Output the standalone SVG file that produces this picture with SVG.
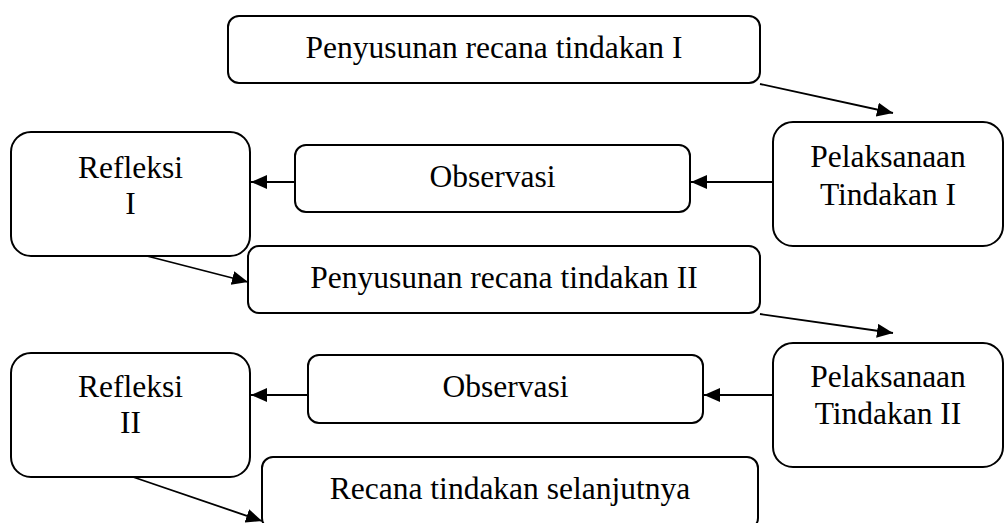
<svg xmlns="http://www.w3.org/2000/svg" width="1004" height="523" viewBox="0 0 1004 523">
<style>
.box{fill:#fff;stroke:#000;stroke-width:2}
.t{font-family:"Liberation Serif","Times New Roman",serif;font-size:31.5px;fill:#000;text-anchor:middle}
.c{stroke:#000;stroke-width:1.8;fill:none;marker-end:url(#ah)}
</style>
<defs>
<marker id="ah" markerUnits="userSpaceOnUse" markerWidth="18" markerHeight="16" refX="16" refY="7" orient="auto">
<path d="M0,0 L16,7 L0,14 z" fill="#000"/>
</marker>
</defs>
<rect width="1004" height="523" fill="#fff"/>
<g id="connectors">
<line class="c" x1="760" y1="84" x2="893" y2="113"/>
<line class="c" x1="773" y1="182" x2="691" y2="182"/>
<line class="c" x1="295" y1="182" x2="251" y2="182"/>
<line class="c" x1="143" y1="255" x2="248" y2="282"/>
<line class="c" x1="760" y1="314" x2="893" y2="333"/>
<line class="c" x1="773" y1="395" x2="704" y2="395"/>
<line class="c" x1="308" y1="395" x2="251" y2="395"/>
<line class="c" x1="133" y1="477" x2="262" y2="521"/>
</g>
<g id="penyusunan1">
<rect class="box" x="228" y="16" width="532" height="67" rx="11"/>
<text class="t" x="494" y="58">Penyusunan recana tindakan I</text>
</g>
<g id="pelaksanaan1">
<rect class="box" x="773" y="122" width="230" height="124" rx="20"/>
<text class="t" x="888" y="167">Pelaksanaan</text>
<text class="t" x="888" y="205">Tindakan I</text>
</g>
<g id="observasi1">
<rect class="box" x="295" y="145" width="395" height="67" rx="11"/>
<text class="t" x="492.5" y="187">Observasi</text>
</g>
<g id="refleksi1">
<rect class="box" x="11" y="132" width="239" height="124" rx="20"/>
<text class="t" x="130.5" y="178">Refleksi</text>
<text class="t" x="130.5" y="214">I</text>
</g>
<g id="penyusunan2">
<rect class="box" x="248" y="246" width="512" height="67" rx="11"/>
<text class="t" x="504" y="288">Penyusunan recana tindakan II</text>
</g>
<g id="pelaksanaan2">
<rect class="box" x="773" y="343" width="230" height="124" rx="20"/>
<text class="t" x="888" y="387">Pelaksanaan</text>
<text class="t" x="888" y="424">Tindakan II</text>
</g>
<g id="observasi2">
<rect class="box" x="308" y="355" width="395" height="68" rx="11"/>
<text class="t" x="505.5" y="397">Observasi</text>
</g>
<g id="refleksi2">
<rect class="box" x="11" y="353" width="239" height="124" rx="20"/>
<text class="t" x="130.5" y="397">Refleksi</text>
<text class="t" x="130.5" y="433">II</text>
</g>
<g id="recana">
<rect class="box" x="262" y="457" width="496" height="72" rx="11"/>
<text class="t" x="510" y="499">Recana tindakan selanjutnya</text>
</g>
</svg>
